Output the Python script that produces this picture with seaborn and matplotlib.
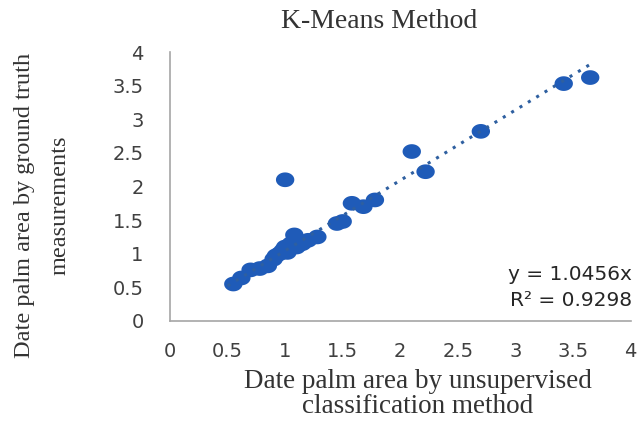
import matplotlib
matplotlib.use("Agg")
import matplotlib.pyplot as plt
from matplotlib.path import Path
import seaborn as sns
import numpy as np
import pandas as pd

x_vals = [0.55, 0.62, 0.70, 0.78, 0.85, 0.90, 0.92, 0.95, 0.98, 1.00, 1.02, 1.05,
          1.08, 1.10, 1.15, 1.20, 1.28, 1.00, 1.45, 1.50, 1.58, 1.68, 1.78,
          2.10, 2.22, 2.70, 3.42, 3.65]
y_vals = [0.55, 0.64, 0.76, 0.78, 0.82, 0.92, 0.97, 1.00, 1.05, 1.10, 1.02, 1.15,
          1.28, 1.10, 1.15, 1.20, 1.25, 2.10, 1.45, 1.48, 1.75, 1.70, 1.80,
          2.52, 2.22, 2.82, 3.53, 3.62]
slope = 1.0456
r2 = 0.9298
ticks = [0, 0.5, 1, 1.5, 2, 2.5, 3, 3.5, 4]
tick_labels = ["0", "0.5", "1", "1.5", "2", "2.5", "3", "3.5", "4"]

df = pd.DataFrame({"x": x_vals, "y": y_vals})

sns.set_theme(style="white")
fig = plt.figure(figsize=(6.4, 4.21), dpi=100)
ax = fig.add_axes([170/640, 1-321/421, (630.5-170)/640, 269/421])

# slightly wide elliptical dot (the reference is horizontally stretched)
t = np.linspace(0, 2*np.pi, 60)
ell = Path(np.column_stack([np.cos(t), 0.8*np.sin(t)]), closed=True)

sns.scatterplot(data=df, x="x", y="y", ax=ax, s=175, color="#1F5BB8",
                marker=ell, edgecolor="none", linewidth=0, zorder=3)
xl = np.array([min(x_vals) - 0.05, max(x_vals) + 0.02])
ax.plot(xl, slope * xl, linestyle=(0, (1, 2.2)), color="#2E5FA0", linewidth=2.2, zorder=4)

ax.set_xlim(0, 4)
ax.set_ylim(0, 4)
ax.set_xticks(ticks)
ax.set_xticklabels(tick_labels)
ax.set_yticks(ticks)
ax.set_yticklabels(tick_labels)
sans = ["DejaVu Sans"]
for lab in ax.get_xticklabels() + ax.get_yticklabels():
    lab.set_family(sans)
    lab.set_fontsize(14)
    lab.set_color("#404040")
ax.tick_params(axis="x", length=0, pad=15)
ax.tick_params(axis="y", length=0, pad=19)
for side in ["top", "right"]:
    ax.spines[side].set_visible(False)
for side in ["left", "bottom"]:
    ax.spines[side].set_color("#A6A6A6")
    ax.spines[side].set_linewidth(1.2)
ax.set_xlabel("")
ax.set_ylabel("")

serif = ["Liberation Serif", "DejaVu Serif"]
fig.text(379/640, 1-21/421, "K-Means Method", ha="center", va="center",
         family=serif, fontsize=20, color="#333333")
fig.text(418/640, 1-394/421, "Date palm area by unsupervised\nclassification method",
         ha="center", va="center", family=serif, fontsize=19.5, color="#333333",
         linespacing=1.0)
fig.text(42/640, 1-205/421, "Date palm area by ground truth\nmeasurements",
         ha="center", va="center", rotation=90, family=serif, fontsize=17.5,
         color="#333333", linespacing=1.9)
fig.text(632/640, 1-265/421, f"y = {slope}x\nR² = {r2}",
         ha="right", va="top", family=sans, fontsize=14.5, color="#262626",
         linespacing=1.45)

fig.savefig("out.png", dpi=100)
